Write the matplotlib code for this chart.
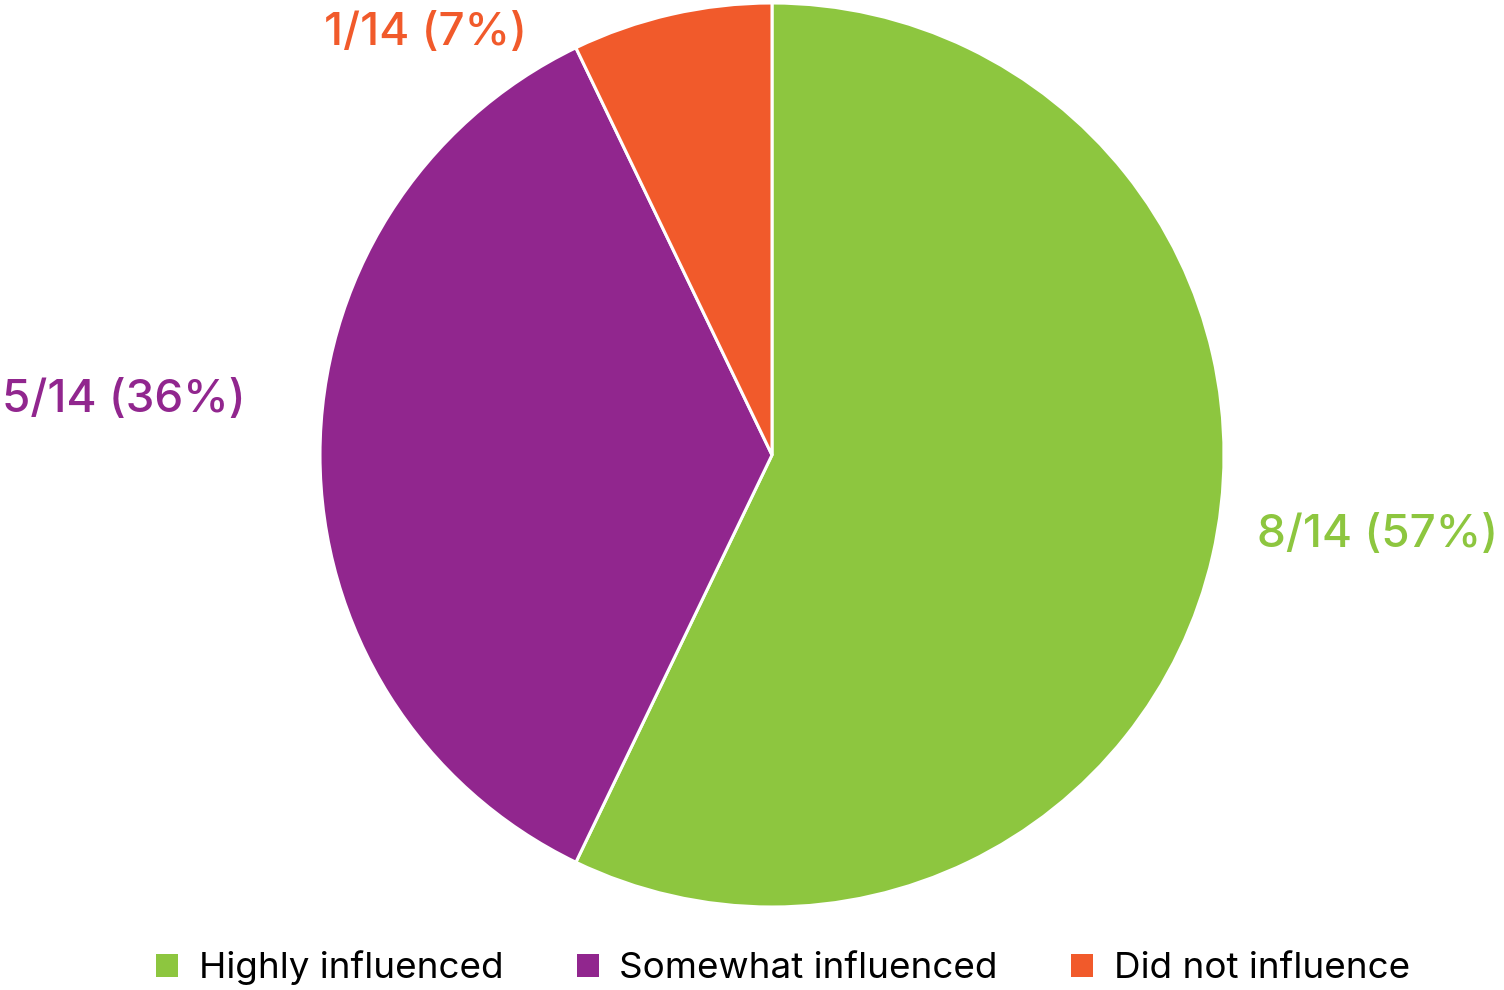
import matplotlib
matplotlib.use("Agg")
import matplotlib.pyplot as plt
from matplotlib.patches import Patch

categories = ["Highly influenced", "Somewhat influenced", "Did not influence"]
counts = [8, 5, 1]
total = 14
colors = ["#8DC63F", "#91268E", "#F15A2B"]

plt.rcParams['font.family'] = ['Inter', 'DejaVu Sans']

W, H = 1504, 990
fig = plt.figure(figsize=(W / 100, H / 100), dpi=100)
cx, cy, r = 772, 455, 452
ax = fig.add_axes([(cx - r) / W, (H - (cy + r)) / H, 2 * r / W, 2 * r / H])
ax.pie(counts, colors=colors, startangle=90, counterclock=False, radius=1,
       wedgeprops=dict(edgecolor="white", linewidth=2.2))
ax.set_xlim(-1, 1)
ax.set_ylim(-1, 1)
ax.set_aspect('equal')
ax.axis('off')

labels = [f"{c}/{total} ({round(c / total * 100)}%)" for c in counts]
label_pos = [(1378, 535), (124, 400), (425, 33)]
for lab, (x, y), col in zip(labels, label_pos, colors):
    fig.text(x / W, 1 - y / H, lab, color=col, fontsize=33, fontweight='medium',
             ha='center', va='center')

handles = [Patch(facecolor=c, edgecolor='none') for c in colors]
fig.legend(handles, categories, loc='center', bbox_to_anchor=(783 / W, 1 - 968 / H),
           ncol=3, frameon=False, fontsize=26.5, handlelength=0.6, handleheight=0.6,
           handletextpad=0.55, columnspacing=2.0, borderpad=0.1)

fig.savefig("out.png", dpi=100)
